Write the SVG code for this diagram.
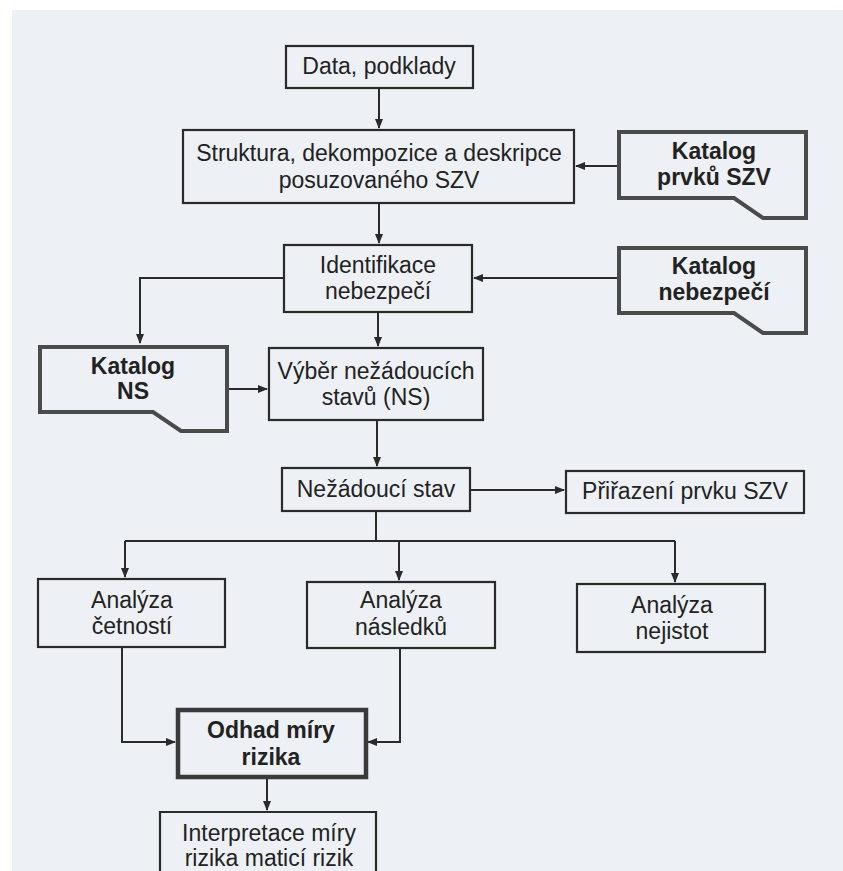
<svg xmlns="http://www.w3.org/2000/svg" width="843" height="871" viewBox="0 0 843 871">
<defs>
<marker id="ah" markerWidth="10" markerHeight="8" refX="9" refY="4" orient="auto" markerUnits="userSpaceOnUse">
<path d="M0,0 L10,4 L0,8 Z" fill="#2a2a2a"/>
</marker>
<style>
.box{fill:none;stroke:#2a2a2a;stroke-width:2.2}
.kat{fill:none;stroke:#4a4a4a;stroke-width:4;stroke-linejoin:miter}
.bold{fill:none;stroke:#3a3a3a;stroke-width:4.5}
.t{font-family:"Liberation Sans",Arial,sans-serif;font-size:23px;fill:#222222;text-anchor:middle}
.b{font-weight:bold}
.c{fill:none;stroke:#2a2a2a;stroke-width:2}
</style>
</defs>
<rect x="0" y="0" width="843" height="871" fill="#ffffff"/>
<rect x="12" y="10" width="831" height="861" fill="#edf1f5"/>

<g id="connectors">
<path class="c" d="M379,88 L379,128" marker-end="url(#ah)"/>
<path class="c" d="M618,166 L576,166" marker-end="url(#ah)"/>
<path class="c" d="M379,203 L379,243" marker-end="url(#ah)"/>
<path class="c" d="M618,278 L474,278" marker-end="url(#ah)"/>
<path class="c" d="M283,278 L140,278 L140,343" marker-end="url(#ah)"/>
<path class="c" d="M378,312 L378,346" marker-end="url(#ah)"/>
<path class="c" d="M228,389 L267,389" marker-end="url(#ah)"/>
<path class="c" d="M377,420 L377,466" marker-end="url(#ah)"/>
<path class="c" d="M470,490 L564,490" marker-end="url(#ah)"/>
<path class="c" d="M376,511 L376,541"/>
<path class="c" d="M125,541 L675,541"/>
<path class="c" d="M125,541 L125,577" marker-end="url(#ah)"/>
<path class="c" d="M399,541 L399,580" marker-end="url(#ah)"/>
<path class="c" d="M675,541 L675,582" marker-end="url(#ah)"/>
<path class="c" d="M122,647 L122,742 L175,742" marker-end="url(#ah)"/>
<path class="c" d="M400,648 L400,742 L368,742" marker-end="url(#ah)"/>
<path class="c" d="M267,777 L267,810" marker-end="url(#ah)"/>
</g>

<g id="data">
<rect class="box" x="286" y="46" width="187" height="42"/>
<text class="t" x="379" y="74">Data, podklady</text>
</g>

<g id="struktura">
<rect class="box" x="183" y="130" width="391" height="73"/>
<text class="t" x="379" y="161">Struktura, dekompozice a deskripce</text>
<text class="t" x="379" y="188">posuzovaného SZV</text>
</g>

<g id="katalog-prvku">
<path class="kat" d="M619,132 L806,132 L806,218 L763,218 L734,198 L619,198 Z"/>
<text class="t b" x="714" y="159">Katalog</text>
<text class="t b" x="714" y="185">prvků SZV</text>
</g>

<g id="identifikace">
<rect class="box" x="284" y="245" width="188" height="67"/>
<text class="t" x="378" y="273">Identifikace</text>
<text class="t" x="378" y="299">nebezpečí</text>
</g>

<g id="katalog-nebezpeci">
<path class="kat" d="M619,248 L806,248 L806,333 L763,333 L734,313 L619,313 Z"/>
<text class="t b" x="714" y="274">Katalog</text>
<text class="t b" x="714" y="300">nebezpečí</text>
</g>

<g id="katalog-ns">
<path class="kat" d="M40,347 L227,347 L227,431 L181,431 L153,412 L40,412 Z"/>
<text class="t b" x="133" y="374">Katalog</text>
<text class="t b" x="133" y="399">NS</text>
</g>

<g id="vyber">
<rect class="box" x="269" y="348" width="214" height="72"/>
<text class="t" x="376" y="379">Výběr nežádoucích</text>
<text class="t" x="376" y="405">stavů (NS)</text>
</g>

<g id="nezadouci">
<rect class="box" x="282" y="468" width="188" height="43"/>
<text class="t" x="376" y="497">Nežádoucí stav</text>
</g>

<g id="prirazeni">
<rect class="box" x="566" y="471" width="238" height="42"/>
<text class="t" x="685" y="499">Přiřazení prvku SZV</text>
</g>

<g id="cetnosti">
<rect class="box" x="38" y="579" width="187" height="68"/>
<text class="t" x="132" y="608">Analýza</text>
<text class="t" x="132" y="634">četností</text>
</g>

<g id="nasledku">
<rect class="box" x="307" y="582" width="188" height="66"/>
<text class="t" x="401" y="608">Analýza</text>
<text class="t" x="401" y="635">následků</text>
</g>

<g id="nejistot">
<rect class="box" x="577" y="584" width="188" height="68"/>
<text class="t" x="672" y="613">Analýza</text>
<text class="t" x="672" y="639">nejistot</text>
</g>

<g id="odhad">
<rect class="bold" x="178" y="710" width="188" height="67"/>
<text class="t b" x="271" y="738">Odhad míry</text>
<text class="t b" x="271" y="765">rizika</text>
</g>

<g id="interpretace">
<path class="box" d="M160,875 L160,812 L376,812 L376,875"/>
<text class="t" x="269" y="841">Interpretace míry</text>
<text class="t" x="269" y="866">rizika maticí rizik</text>
</g>
</svg>
